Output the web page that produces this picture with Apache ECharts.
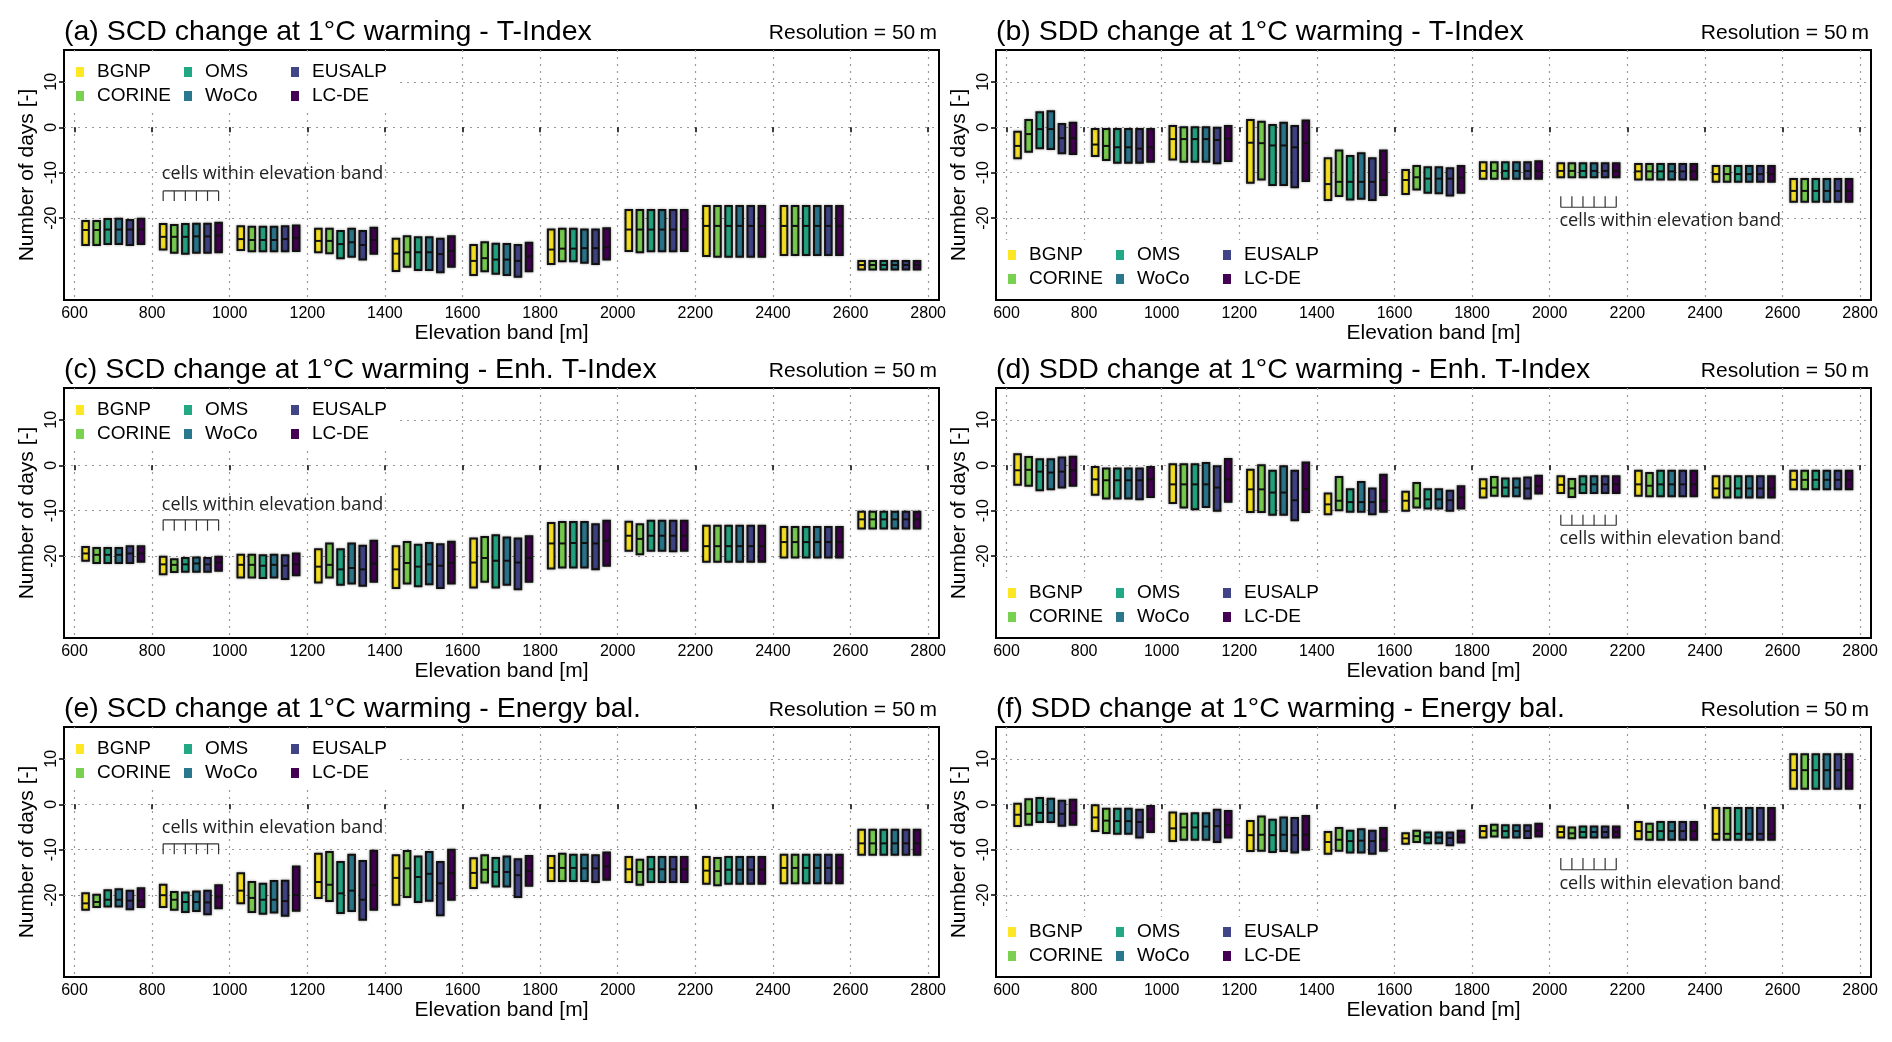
<!DOCTYPE html>
<html>
<head>
<meta charset="utf-8">
<title>SCD / SDD change at 1°C warming</title>
<script src="https://cdn.jsdelivr.net/npm/echarts@6/dist/echarts.min.js"></script>
<style>
  html, body { margin: 0; padding: 0; background: #fff; }
  #chart { width: 1892px; height: 1042px; }
</style>
</head>
<body>
<div id="chart"></div>
<script>
// elevation bands (lower edge, m) and data sources
var bands = [600, 800, 1000, 1200, 1400, 1600, 1800, 2000, 2200, 2400, 2600];
var sources = ['BGNP', 'CORINE', 'OMS', 'WoCo', 'EUSALP', 'LC-DE'];
var xTicks = [600, 800, 1000, 1200, 1400, 1600, 1800, 2000, 2200, 2400, 2600, 2800];
var yTicks = [-20, -10, 0, 10];

// per band: one [low, median, high] per source (days)
var scdTIndex = [
  [[-25.9,-22.6,-20.6],[-25.9,-22.6,-20.6],[-25.7,-22.5,-20.2],[-25.7,-22.5,-20.1],[-25.9,-22.5,-20.4],[-25.7,-22.5,-20.1]],
  [[-26.9,-24.1,-21.3],[-27.6,-24.1,-21.5],[-27.8,-24.1,-21.3],[-27.6,-24.0,-21.2],[-27.6,-24.0,-21.2],[-27.5,-23.8,-21.0]],
  [[-27.0,-24.6,-21.8],[-27.3,-24.8,-21.9],[-27.3,-24.8,-21.9],[-27.3,-24.8,-21.9],[-27.3,-24.6,-21.8],[-27.2,-24.4,-21.6]],
  [[-27.5,-25.0,-22.3],[-27.7,-25.0,-22.3],[-28.8,-25.7,-22.8],[-28.5,-25.3,-22.3],[-29.1,-25.9,-22.8],[-27.8,-24.8,-22.1]],
  [[-31.6,-27.8,-24.5],[-30.7,-27.5,-24.0],[-31.4,-27.5,-24.2],[-31.4,-27.5,-24.2],[-31.9,-27.9,-24.5],[-30.7,-27.2,-24.0]],
  [[-32.5,-29.4,-25.9],[-31.7,-28.8,-25.3],[-32.2,-29.1,-25.6],[-32.5,-29.1,-25.7],[-32.9,-29.4,-25.9],[-31.7,-28.4,-25.4]],
  [[-30.1,-26.9,-22.5],[-29.5,-26.7,-22.3],[-29.5,-26.7,-22.3],[-29.8,-26.6,-22.5],[-30.1,-26.6,-22.5],[-29.1,-26.4,-22.2]],
  [[-27.2,-22.5,-18.2],[-27.5,-22.5,-18.2],[-27.3,-22.5,-18.2],[-27.3,-22.5,-18.2],[-27.3,-22.5,-18.2],[-27.2,-22.5,-18.2]],
  [[-28.3,-21.7,-17.3],[-28.5,-21.7,-17.3],[-28.5,-21.7,-17.3],[-28.5,-21.7,-17.3],[-28.5,-21.7,-17.3],[-28.5,-21.7,-17.3]],
  [[-28.1,-21.7,-17.3],[-28.1,-21.7,-17.3],[-28.1,-21.7,-17.3],[-28.1,-21.7,-17.3],[-28.1,-21.7,-17.3],[-28.1,-21.7,-17.3]],
  [[-31.3,-30.3,-29.4],[-31.3,-30.3,-29.4],[-31.3,-30.3,-29.4],[-31.3,-30.3,-29.4],[-31.3,-30.3,-29.4],[-31.3,-30.3,-29.4]]
];
var sddTIndex = [
  [[-6.8,-4.1,-1.0],[-5.4,-1.5,1.6],[-4.6,-0.4,3.3],[-4.8,-0.4,3.5],[-5.7,-2.4,0.7],[-5.9,-2.4,1.0]],
  [[-6.3,-3.8,-0.4],[-7.2,-4.1,-0.4],[-7.8,-4.4,-0.4],[-7.8,-4.4,-0.4],[-7.8,-4.7,-0.4],[-7.6,-4.4,-0.4]],
  [[-7.1,-2.6,0.3],[-7.6,-2.6,0.0],[-7.6,-2.6,0.0],[-7.6,-2.6,0.0],[-7.9,-2.8,-0.1],[-7.4,-2.5,0.3]],
  [[-12.2,-3.4,1.6],[-11.5,-3.5,1.2],[-12.7,-4.0,0.5],[-12.7,-4.0,1.0],[-13.2,-4.4,0.3],[-11.8,-3.5,1.5]],
  [[-16.0,-12.5,-6.8],[-15.1,-12.0,-5.1],[-15.9,-12.0,-6.3],[-15.7,-12.0,-5.7],[-16.0,-12.0,-6.8],[-14.9,-11.6,-5.1]],
  [[-14.7,-11.6,-9.4],[-13.7,-11.0,-8.5],[-14.4,-11.3,-8.8],[-14.5,-11.3,-8.8],[-15.0,-11.3,-9.0],[-14.4,-11.1,-8.5]],
  [[-11.3,-9.6,-7.7],[-11.3,-9.6,-7.7],[-11.3,-9.6,-7.7],[-11.3,-9.6,-7.7],[-11.3,-9.6,-7.7],[-11.3,-9.6,-7.5]],
  [[-11.0,-9.6,-7.9],[-11.0,-9.6,-7.9],[-11.0,-9.6,-7.9],[-11.0,-9.6,-7.9],[-11.0,-9.6,-7.9],[-11.0,-9.6,-7.9]],
  [[-11.5,-9.7,-8.1],[-11.5,-9.7,-8.1],[-11.5,-9.7,-8.1],[-11.5,-9.7,-8.1],[-11.5,-9.7,-8.1],[-11.5,-9.7,-8.1]],
  [[-12.0,-10.3,-8.5],[-12.0,-10.3,-8.5],[-12.0,-10.3,-8.5],[-12.0,-10.3,-8.5],[-12.0,-10.3,-8.5],[-12.0,-10.3,-8.5]],
  [[-16.4,-14.0,-11.4],[-16.4,-14.0,-11.4],[-16.4,-14.0,-11.4],[-16.4,-14.0,-11.4],[-16.4,-14.0,-11.4],[-16.4,-14.0,-11.4]]
];
var scdEnh = [
  [[-21.0,-19.4,-18.0],[-21.5,-19.7,-18.2],[-21.5,-19.7,-18.2],[-21.5,-19.7,-18.2],[-21.5,-19.4,-17.8],[-21.2,-19.4,-17.8]],
  [[-24.0,-21.8,-20.1],[-23.5,-21.9,-20.7],[-23.4,-21.8,-20.4],[-23.4,-21.6,-20.3],[-23.4,-21.8,-20.4],[-23.2,-21.4,-20.1]],
  [[-24.7,-21.9,-19.7],[-24.7,-21.9,-19.7],[-24.8,-22.1,-19.8],[-24.7,-21.9,-19.7],[-25.0,-22.1,-19.8],[-24.2,-21.8,-19.4]],
  [[-25.8,-22.3,-18.5],[-24.7,-21.9,-17.2],[-26.3,-22.9,-18.5],[-26.0,-22.6,-17.2],[-26.5,-22.9,-17.7],[-25.6,-21.6,-16.6]],
  [[-27.0,-22.9,-17.8],[-26.0,-21.5,-16.9],[-26.6,-22.3,-17.5],[-26.2,-21.8,-17.1],[-27.0,-22.1,-17.4],[-26.0,-21.5,-16.8]],
  [[-26.9,-21.4,-16.1],[-25.6,-20.4,-15.8],[-26.9,-21.0,-15.4],[-26.3,-21.0,-15.9],[-27.3,-21.4,-16.1],[-25.6,-20.4,-15.6]],
  [[-22.7,-17.2,-12.7],[-22.5,-17.2,-12.5],[-22.5,-17.1,-12.5],[-22.5,-17.1,-12.5],[-22.9,-17.2,-13.0],[-22.1,-16.6,-12.2]],
  [[-18.8,-15.5,-12.4],[-19.6,-16.2,-13.0],[-18.8,-15.5,-12.2],[-18.8,-15.5,-12.2],[-18.9,-15.5,-12.2],[-18.8,-15.5,-12.2]],
  [[-21.2,-17.8,-13.3],[-21.2,-17.8,-13.3],[-21.2,-17.8,-13.3],[-21.2,-17.8,-13.3],[-21.2,-17.8,-13.3],[-21.2,-17.8,-13.3]],
  [[-20.3,-16.9,-13.6],[-20.3,-16.9,-13.6],[-20.3,-16.9,-13.6],[-20.3,-16.9,-13.6],[-20.3,-16.9,-13.6],[-20.3,-16.9,-13.6]],
  [[-13.9,-11.9,-10.2],[-13.9,-11.9,-10.2],[-13.9,-11.9,-10.2],[-13.9,-11.9,-10.2],[-13.9,-11.9,-10.2],[-13.9,-11.9,-10.2]]
];
var sddEnh = [
  [[-4.3,-1.1,2.4],[-4.5,-1.0,1.8],[-5.5,-1.4,1.3],[-5.3,-1.6,1.3],[-4.9,-1.4,1.7],[-4.5,-1.1,1.9]],
  [[-6.5,-3.1,-0.4],[-7.3,-3.3,-0.7],[-7.3,-3.3,-0.7],[-7.3,-3.3,-0.7],[-7.5,-3.3,-0.7],[-7.0,-3.1,-0.4]],
  [[-8.3,-4.2,0.2],[-9.3,-4.2,0.2],[-9.7,-4.2,0.2],[-9.2,-4.2,0.5],[-10.0,-4.9,-0.2],[-8.0,-3.1,1.4]],
  [[-10.3,-5.3,-1.0],[-10.3,-5.3,0.0],[-10.9,-6.0,-1.2],[-10.9,-6.0,-0.2],[-12.1,-7.7,-1.2],[-10.3,-5.2,0.6]],
  [[-10.8,-8.6,-6.2],[-9.9,-7.8,-2.6],[-10.2,-8.1,-5.3],[-10.2,-8.1,-3.7],[-10.8,-8.1,-5.1],[-10.2,-7.8,-2.1]],
  [[-10.0,-7.8,-5.8],[-9.3,-7.3,-3.9],[-9.5,-7.5,-5.3],[-9.5,-7.5,-5.3],[-10.0,-7.7,-5.6],[-9.5,-7.1,-4.6]],
  [[-7.1,-5.1,-3.1],[-6.7,-4.9,-2.6],[-6.8,-4.9,-2.9],[-6.8,-4.9,-2.9],[-7.3,-5.1,-2.7],[-6.2,-4.6,-2.3]],
  [[-6.1,-4.3,-2.4],[-7.0,-5.1,-3.0],[-6.1,-4.2,-2.4],[-6.1,-4.2,-2.4],[-6.1,-4.2,-2.4],[-6.1,-4.2,-2.4]],
  [[-6.7,-4.2,-1.2],[-6.8,-4.5,-1.7],[-6.8,-4.2,-1.2],[-6.8,-4.2,-1.2],[-6.8,-4.2,-1.2],[-6.8,-4.2,-1.2]],
  [[-7.1,-5.1,-2.4],[-7.1,-5.1,-2.4],[-7.1,-5.1,-2.4],[-7.1,-5.1,-2.4],[-7.1,-5.1,-2.4],[-7.1,-5.1,-2.4]],
  [[-5.3,-3.2,-1.2],[-5.3,-3.2,-1.2],[-5.3,-3.2,-1.2],[-5.3,-3.2,-1.2],[-5.3,-3.2,-1.2],[-5.3,-3.2,-1.2]]
];
var scdEnergy = [
  [[-23.2,-21.8,-19.6],[-22.6,-21.5,-19.9],[-22.5,-21.0,-18.9],[-22.5,-21.0,-18.7],[-23.1,-21.2,-19.0],[-22.6,-21.2,-18.5]],
  [[-22.6,-20.0,-17.7],[-23.2,-21.0,-19.3],[-23.7,-21.5,-19.4],[-23.5,-21.5,-19.2],[-24.2,-21.6,-19.0],[-22.9,-20.3,-17.8]],
  [[-21.8,-19.0,-15.2],[-23.7,-20.6,-17.1],[-24.1,-21.0,-17.5],[-23.8,-21.0,-16.9],[-24.5,-21.3,-16.8],[-23.4,-20.0,-13.7]],
  [[-20.6,-17.1,-10.9],[-21.3,-17.7,-10.5],[-23.9,-19.6,-12.7],[-23.5,-19.0,-11.1],[-25.4,-21.0,-12.5],[-23.2,-17.8,-10.2]],
  [[-22.1,-16.2,-11.2],[-20.4,-14.1,-10.3],[-21.5,-16.0,-11.5],[-21.2,-15.3,-10.5],[-24.4,-17.4,-12.7],[-21.0,-15.1,-10.0]],
  [[-18.4,-15.1,-11.9],[-17.2,-14.4,-11.2],[-18.1,-14.9,-11.8],[-18.1,-14.9,-11.5],[-20.4,-15.6,-12.1],[-17.9,-14.7,-11.4]],
  [[-16.9,-14.0,-11.4],[-16.9,-14.0,-10.9],[-16.9,-14.0,-11.1],[-16.9,-14.1,-11.1],[-17.1,-14.1,-11.2],[-16.6,-13.7,-10.6]],
  [[-17.1,-14.3,-11.6],[-17.7,-14.9,-12.2],[-17.1,-14.3,-11.6],[-17.1,-14.3,-11.6],[-17.1,-14.3,-11.6],[-17.1,-14.3,-11.6]],
  [[-17.5,-14.6,-11.6],[-17.8,-14.7,-11.8],[-17.5,-14.4,-11.6],[-17.5,-14.4,-11.6],[-17.5,-14.4,-11.6],[-17.5,-14.4,-11.6]],
  [[-17.4,-14.0,-11.1],[-17.4,-14.0,-11.1],[-17.4,-14.0,-11.1],[-17.4,-14.0,-11.1],[-17.4,-14.0,-11.1],[-17.4,-14.0,-11.1]],
  [[-11.1,-8.6,-5.6],[-11.1,-8.6,-5.6],[-11.1,-8.6,-5.6],[-11.1,-8.6,-5.6],[-11.1,-8.6,-5.6],[-11.1,-8.6,-5.6]]
];
var sddEnergy = [
  [[-4.8,-2.3,0.1],[-4.5,-2.1,1.1],[-3.9,-1.9,1.4],[-3.9,-1.9,1.2],[-4.7,-2.1,0.8],[-4.5,-1.9,1.0]],
  [[-5.9,-2.9,-0.2],[-6.3,-3.6,-1.0],[-6.5,-3.7,-1.0],[-6.5,-3.7,-1.0],[-7.3,-3.9,-1.2],[-6.1,-3.2,-0.4]],
  [[-8.1,-5.3,-1.8],[-7.8,-5.1,-2.1],[-7.8,-5.1,-2.0],[-7.8,-4.9,-2.0],[-8.3,-4.8,-1.2],[-7.3,-4.6,-1.5]],
  [[-10.3,-6.8,-3.7],[-10.2,-6.7,-2.7],[-10.5,-6.8,-3.4],[-10.3,-6.7,-2.9],[-10.6,-6.8,-3.0],[-10.0,-6.7,-2.6]],
  [[-10.9,-8.3,-6.1],[-10.2,-7.8,-5.2],[-10.6,-8.1,-5.8],[-10.6,-8.0,-5.5],[-10.9,-8.1,-5.8],[-10.2,-7.8,-5.2]],
  [[-8.7,-7.5,-6.4],[-8.3,-7.0,-5.8],[-8.6,-7.3,-6.2],[-8.6,-7.3,-6.2],[-9.0,-7.4,-6.2],[-8.4,-7.1,-5.8]],
  [[-7.3,-5.9,-4.8],[-7.1,-5.8,-4.5],[-7.3,-5.9,-4.6],[-7.3,-5.9,-4.6],[-7.4,-5.9,-4.6],[-7.1,-5.8,-4.3]],
  [[-7.3,-6.1,-4.9],[-7.5,-6.4,-5.1],[-7.3,-6.1,-4.9],[-7.3,-6.1,-4.9],[-7.3,-6.1,-4.9],[-7.3,-6.1,-4.9]],
  [[-7.7,-5.9,-3.9],[-7.8,-6.1,-4.3],[-7.8,-5.9,-3.9],[-7.8,-5.9,-3.9],[-7.8,-5.9,-3.9],[-7.8,-5.9,-3.9]],
  [[-7.8,-6.5,-0.8],[-7.8,-6.5,-0.8],[-7.8,-6.5,-0.8],[-7.8,-6.5,-0.8],[-7.8,-6.5,-0.8],[-7.8,-6.5,-0.8]],
  [[3.4,7.5,11.0],[3.4,7.5,11.0],[3.4,7.5,11.0],[3.4,7.5,11.0],[3.4,7.5,11.0],[3.4,7.5,11.0]]
];

var colors = ['#FDE725', '#7AD151', '#22A884', '#2A788E', '#414487', '#440154'];
var font = '"Liberation Sans", Arial, sans-serif';

// panels: a b / c d / e f
var panels = [
  { title: '(a) SCD change at 1°C warming - T-Index', data: scdTIndex, legendTop: true,
    note: { band: 800, text: -10.3, line: -14.0, tick: -16.2 } },
  { title: '(b) SDD change at 1°C warming - T-Index', data: sddTIndex, legendTop: false,
    note: { band: 2000, text: -20.7, line: -17.6, tick: -15.2 } },
  { title: '(c) SCD change at 1°C warming - Enh. T-Index', data: scdEnh, legendTop: true,
    note: { band: 800, text: -8.8, line: -12.0, tick: -14.4 } },
  { title: '(d) SDD change at 1°C warming - Enh. T-Index', data: sddEnh, legendTop: false,
    note: { band: 2000, text: -16.3, line: -13.2, tick: -10.9 } },
  { title: '(e) SCD change at 1°C warming - Energy bal.', data: scdEnergy, legendTop: true,
    note: { band: 800, text: -5.2, line: -8.7, tick: -11.0 } },
  { title: '(f) SDD change at 1°C warming - Energy bal.', data: sddEnergy, legendTop: false,
    note: { band: 2000, text: -17.5, line: -14.4, tick: -11.8 } }
];

var colLeft = [64, 996], plotW = 875;
var rowTop = [50, 388, 727], plotH = 250;
var boxW = 17; // metres

function cellX(band, j) {
  return band + 200 * (j + 1) / 7;
}

function renderBox(params, api) {
  var x = api.value(0);
  var lo = api.coord([x, api.value(1)]);
  var md = api.coord([x, api.value(2)]);
  var hi = api.coord([x, api.value(3)]);
  var w = api.size([boxW, 0])[0];
  return {
    type: 'group',
    children: [{
      type: 'rect',
      shape: { x: lo[0] - w / 2, y: hi[1], width: w, height: lo[1] - hi[1] },
      style: { fill: api.visual('color'), stroke: '#111', lineWidth: 2,
               shadowBlur: 3, shadowColor: 'rgba(0,0,0,0.3)' }
    }, {
      type: 'line',
      shape: { x1: lo[0] - w / 2, y1: md[1], x2: lo[0] + w / 2, y2: md[1] },
      style: { stroke: '#111', lineWidth: 2 }
    }]
  };
}

function makeNote(n) {
  return function (params, api) {
    var kids = [], first, last;
    for (var j = 0; j < 6; j++) {
      var a = api.coord([cellX(n.band, j), n.line]);
      var b = api.coord([cellX(n.band, j), n.tick]);
      if (j === 0) first = a;
      last = a;
      kids.push({ type: 'line', shape: { x1: a[0], y1: a[1], x2: b[0], y2: b[1] },
                  style: { stroke: '#333', lineWidth: 1.2 } });
    }
    kids.push({ type: 'line', shape: { x1: first[0], y1: first[1], x2: last[0], y2: last[1] },
                style: { stroke: '#333', lineWidth: 1.2 } });
    var t = api.coord([n.band + 25, n.text]);
    kids.push({ type: 'text', x: t[0], y: t[1],
                style: { text: 'cells within elevation band', fill: '#222', fontSize: 18,
                         fontFamily: '"Open Sans", sans-serif', align: 'left', verticalAlign: 'middle' } });
    return { type: 'group', children: kids };
  };
}

var grids = [], xAxes = [], yAxes = [], series = [], legends = [], titles = [], graphics = [];
var legendCols = [['BGNP', 'CORINE'], ['OMS', 'WoCo'], ['EUSALP', 'LC-DE']];
var legendX = [12, 120, 227];

panels.forEach(function (p, k) {
  var left = colLeft[k % 2], top = rowTop[Math.floor(k / 2)];
  grids.push({ left: left, top: top, width: plotW, height: plotH, show: true,
               borderColor: '#000', borderWidth: 2, backgroundColor: 'transparent' });

  xAxes.push({
    gridIndex: k, type: 'value', min: 573, max: 2828,
    axisLine: { show: false },
    axisTick: { show: true, length: 5, customValues: xTicks, lineStyle: { color: '#000', width: 1.5 } },
    axisLabel: { customValues: xTicks, fontSize: 16, color: '#000', fontFamily: font, margin: 6,
                 formatter: function (v) { return String(v); } },
    splitLine: { show: true, lineStyle: { color: '#999', width: 1.2, type: [2, 5] } },
    name: 'Elevation band [m]', nameLocation: 'middle', nameGap: 22,
    nameTextStyle: { fontSize: 21, color: '#000', fontFamily: font }
  });
  yAxes.push({
    gridIndex: k, type: 'value', min: -38, max: 17,
    axisLine: { show: false },
    axisTick: { show: true, length: 5, customValues: yTicks, lineStyle: { color: '#000', width: 1.5 } },
    axisLabel: { customValues: yTicks, rotate: 90, fontSize: 16, color: '#000', fontFamily: font, margin: 4 },
    splitLine: { show: true, lineStyle: { color: '#999', width: 1.2, type: [2, 5] } },
    name: 'Number of days [-]', nameLocation: 'middle', nameGap: 26, nameRotate: 90,
    nameTextStyle: { fontSize: 21, color: '#000', fontFamily: font }
  });

  sources.forEach(function (s, j) {
    var rows = bands.map(function (b, i) {
      var v = p.data[i][j];
      return [cellX(b, j), v[0], v[1], v[2]];
    });
    series.push({
      type: 'custom', name: s, xAxisIndex: k, yAxisIndex: k,
      itemStyle: { color: colors[j] }, renderItem: renderBox,
      encode: { x: 0, y: [1, 2, 3] }, data: rows, silent: true
    });
  });
  series.push({
    type: 'custom', name: 'note', xAxisIndex: k, yAxisIndex: k, silent: true, z: 3,
    renderItem: makeNote(p.note), encode: { x: 0, y: 1 }, data: [[p.note.band, p.note.line]]
  });

  var legTop = p.legendTop ? 12.5 : 195.5;
  legendCols.forEach(function (c, m) {
    legends.push({
      data: c, orient: 'vertical', left: left + legendX[m], top: top + legTop,
      itemWidth: 8, itemHeight: 10, itemGap: 5, padding: 0, icon: 'rect', selectedMode: false,
      textStyle: { fontSize: 19, color: '#000', fontFamily: font, padding: [0, 0, 0, 8] }
    });
  });
  graphics.push({
    type: 'rect', z: 1, silent: true,
    shape: { x: left + 1.5, y: top + (p.legendTop ? 1.5 : 190), width: 332, height: p.legendTop ? 57 : 58.5 },
    style: { fill: '#fff' }
  });

  titles.push({ text: p.title, left: left, top: top - 32.5, padding: 0,
                textStyle: { fontSize: 28.5, fontWeight: 'normal', color: '#000', fontFamily: font } });
  titles.push({ text: 'Resolution = 50\u2009m', right: 1892 - (left + plotW - 2), top: top - 27.5, padding: 0,
                textStyle: { fontSize: 21, fontWeight: 'normal', color: '#000', fontFamily: font } });
});

var chart = echarts.init(document.getElementById('chart'));
chart.setOption({
  animation: false,
  backgroundColor: '#fff',
  title: titles,
  legend: legends,
  grid: grids,
  xAxis: xAxes,
  yAxis: yAxes,
  graphic: { elements: graphics },
  series: series
});
</script>
</body>
</html>
